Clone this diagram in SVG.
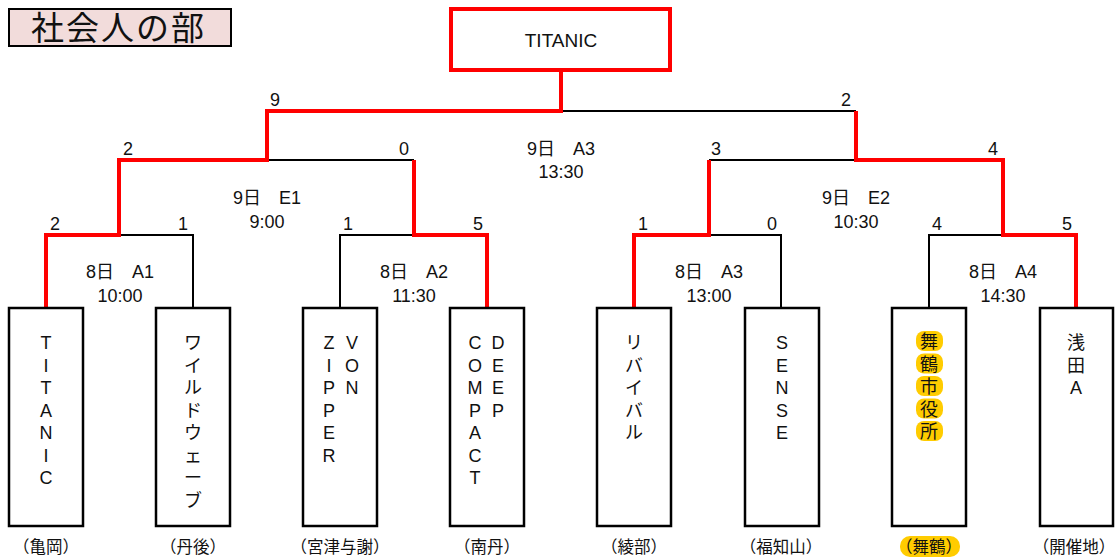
<svg xmlns="http://www.w3.org/2000/svg" width="1116" height="559" viewBox="0 0 1116 559">
  <style>
    text { font-family: "Liberation Sans", "Noto Sans CJK JP", sans-serif; fill: #111; }
    .score { font-size: 18px; text-anchor: middle; }
    .match { font-size: 18px; text-anchor: middle; }
    .v { font-size: 18px; text-anchor: middle; }
    .loc { font-size: 16.5px; text-anchor: middle; }
    .team { fill: #fff; stroke: #000; stroke-width: 2.5; }
    .red { fill: none; stroke: #ff0000; stroke-width: 4; stroke-linejoin: miter; }
    .blk { fill: none; stroke: #000; stroke-width: 2; }
    .hl { fill: #ffcc00; }
  </style>

  <g id="title">
    <rect x="9" y="9" width="222" height="37" fill="#f2dcdb" stroke="#000" stroke-width="2"/>
    <text x="31" y="40" font-size="33" letter-spacing="2">社会人の部</text>
  </g>

  <g id="connectors">
    <path class="blk" d="M561,111 H856"/>
    <path class="blk" d="M267,160 H414"/>
    <path class="blk" d="M709,160 H856"/>
    <path class="blk" d="M119,235 H193 V308"/>
    <path class="blk" d="M340,308 V235 H414"/>
    <path class="blk" d="M709,235 H781 V308"/>
    <path class="blk" d="M929,308 V235 H1003"/>
    <path class="red" d="M561,71 V111 H267 V160 H119 V235 H46 V308"/>
    <path class="red" d="M856,111 V160 H1003 V235 H1076 V308"/>
    <path class="red" d="M414,160 V235 H487 V308"/>
    <path class="red" d="M709,160 V235 H634 V308"/>
  </g>

  <g id="champion">
    <rect x="451" y="9" width="219" height="61" fill="#fff" stroke="#ff0000" stroke-width="4"/>
    <text x="561" y="47" font-size="19" text-anchor="middle">TITANIC</text>
  </g>

  <g id="scores">
    <text class="score" x="275" y="106">9</text>
    <text class="score" x="846" y="106">2</text>
    <text class="score" x="128" y="155">2</text>
    <text class="score" x="404" y="155">0</text>
    <text class="score" x="716" y="155">3</text>
    <text class="score" x="993" y="155">4</text>
    <text class="score" x="55" y="230">2</text>
    <text class="score" x="183" y="230">1</text>
    <text class="score" x="348" y="230">1</text>
    <text class="score" x="478" y="230">5</text>
    <text class="score" x="643" y="230">1</text>
    <text class="score" x="772" y="230">0</text>
    <text class="score" x="937" y="230">4</text>
    <text class="score" x="1067" y="230">5</text>
  </g>

  <g id="match-labels">
    <text class="match" x="561" y="155">9日　A3</text>
    <text class="match" x="561" y="178">13:30</text>
    <text class="match" x="267" y="204">9日　E1</text>
    <text class="match" x="267" y="228">9:00</text>
    <text class="match" x="856" y="204">9日　E2</text>
    <text class="match" x="856" y="228">10:30</text>
    <text class="match" x="120" y="278">8日　A1</text>
    <text class="match" x="120" y="302">10:00</text>
    <text class="match" x="414" y="278">8日　A2</text>
    <text class="match" x="414" y="302">11:30</text>
    <text class="match" x="709" y="278">8日　A3</text>
    <text class="match" x="709" y="302">13:00</text>
    <text class="match" x="1003" y="278">8日　A4</text>
    <text class="match" x="1003" y="302">14:30</text>
  </g>

  <g id="team-titanic">
    <rect class="team" x="9" y="308" width="74" height="218"/>
    <text class="v" x="46" y="349"><tspan x="46">T</tspan><tspan x="46" dy="22.5">I</tspan><tspan x="46" dy="22.5">T</tspan><tspan x="46" dy="22.5">A</tspan><tspan x="46" dy="22.5">N</tspan><tspan x="46" dy="22.5">I</tspan><tspan x="46" dy="22.5">C</tspan></text>
    <text class="loc" x="46" y="553">（亀岡）</text>
  </g>

  <g id="team-wildwave">
    <rect class="team" x="156" y="308" width="74" height="218"/>
    <text class="v" x="193" y="349"><tspan x="193">ワ</tspan><tspan x="193" dy="22.5">イ</tspan><tspan x="193" dy="22.5">ル</tspan><tspan x="193" dy="22.5">ド</tspan><tspan x="193" dy="22.5">ウ</tspan><tspan x="193" dy="22.5">ェ</tspan><tspan x="193" dy="22.5">ー</tspan><tspan x="193" dy="22.5">ブ</tspan></text>
    <text class="loc" x="193" y="553">（丹後）</text>
  </g>

  <g id="team-zipper-von">
    <rect class="team" x="303" y="308" width="74" height="218"/>
    <text class="v" x="329" y="349"><tspan x="329">Z</tspan><tspan x="329" dy="22.5">I</tspan><tspan x="329" dy="22.5">P</tspan><tspan x="329" dy="22.5">P</tspan><tspan x="329" dy="22.5">E</tspan><tspan x="329" dy="22.5">R</tspan></text>
    <text class="v" x="352" y="349"><tspan x="352">V</tspan><tspan x="352" dy="22.5">O</tspan><tspan x="352" dy="22.5">N</tspan></text>
    <text class="loc" x="340" y="553">（宮津与謝）</text>
  </g>

  <g id="team-compact-deep">
    <rect class="team" x="450" y="308" width="74" height="218"/>
    <text class="v" x="475" y="349"><tspan x="475">C</tspan><tspan x="475" dy="22.5">O</tspan><tspan x="475" dy="22.5">M</tspan><tspan x="475" dy="22.5">P</tspan><tspan x="475" dy="22.5">A</tspan><tspan x="475" dy="22.5">C</tspan><tspan x="475" dy="22.5">T</tspan></text>
    <text class="v" x="498" y="349"><tspan x="498">D</tspan><tspan x="498" dy="22.5">E</tspan><tspan x="498" dy="22.5">E</tspan><tspan x="498" dy="22.5">P</tspan></text>
    <text class="loc" x="487" y="553">（南丹）</text>
  </g>

  <g id="team-revival">
    <rect class="team" x="597" y="308" width="74" height="218"/>
    <text class="v" x="634" y="349"><tspan x="634">リ</tspan><tspan x="634" dy="22.5">バ</tspan><tspan x="634" dy="22.5">イ</tspan><tspan x="634" dy="22.5">バ</tspan><tspan x="634" dy="22.5">ル</tspan></text>
    <text class="loc" x="634" y="553">（綾部）</text>
  </g>

  <g id="team-sense">
    <rect class="team" x="745" y="308" width="74" height="218"/>
    <text class="v" x="782" y="349"><tspan x="782">S</tspan><tspan x="782" dy="22.5">E</tspan><tspan x="782" dy="22.5">N</tspan><tspan x="782" dy="22.5">S</tspan><tspan x="782" dy="22.5">E</tspan></text>
    <text class="loc" x="781" y="553">（福知山）</text>
  </g>

  <g id="team-maizuru-city">
    <rect class="team" x="892" y="308" width="74" height="218"/>
    <rect class="hl" x="916" y="331" width="27" height="20" rx="8"/>
    <rect class="hl" x="916" y="353.5" width="27" height="20" rx="8"/>
    <rect class="hl" x="916" y="376" width="27" height="20" rx="8"/>
    <rect class="hl" x="916" y="398.5" width="27" height="20" rx="8"/>
    <rect class="hl" x="916" y="421" width="27" height="20" rx="8"/>
    <text class="v" x="929" y="348"><tspan x="929">舞</tspan><tspan x="929" dy="22.5">鶴</tspan><tspan x="929" dy="22.5">市</tspan><tspan x="929" dy="22.5">役</tspan><tspan x="929" dy="22.5">所</tspan></text>
    <rect class="hl" x="900" y="536" width="60" height="21" rx="10"/>
    <text class="loc" x="929" y="553">（舞鶴）</text>
  </g>

  <g id="team-asada-a">
    <rect class="team" x="1040" y="308" width="73" height="218"/>
    <text class="v" x="1076" y="349"><tspan x="1076">浅</tspan><tspan x="1076" dy="22.5">田</tspan><tspan x="1076" dy="22.5">A</tspan></text>
    <text class="loc" x="1074" y="553">（開催地）</text>
  </g>
</svg>
